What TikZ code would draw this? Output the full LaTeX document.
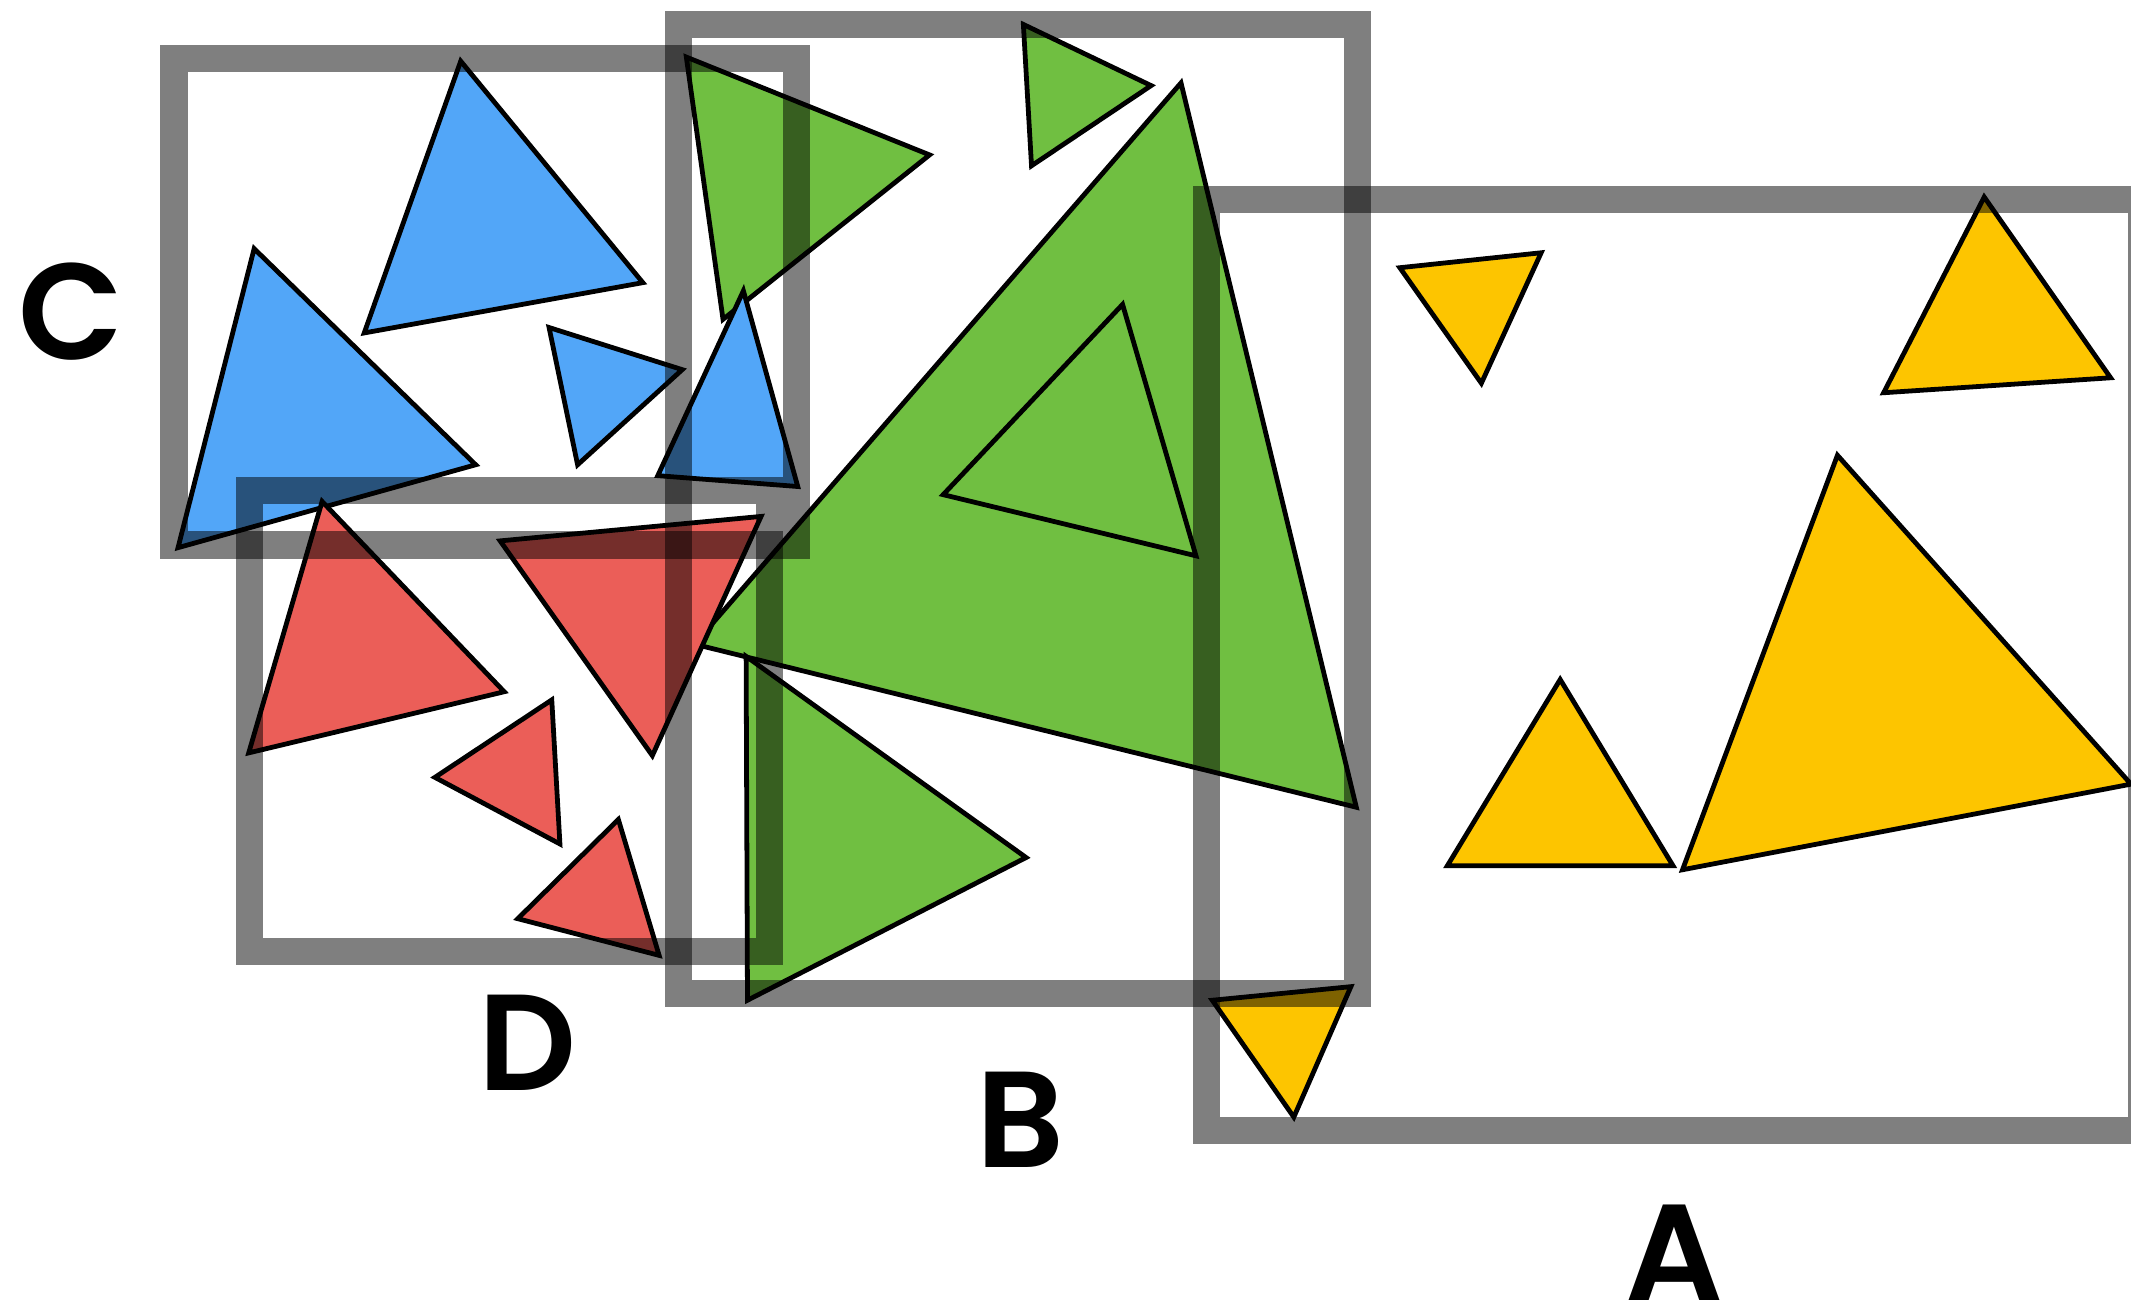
\documentclass[tikz,border=0pt]{standalone}
\usepackage{fontspec}
\newfontfamily\lblfont{Poppins SemiBold}
\definecolor{triblue}{RGB}{82,166,248}
\definecolor{trigreen}{RGB}{112,191,65}
\definecolor{trired}{RGB}{235,94,88}
\definecolor{triyellow}{RGB}{253,197,0}

\begin{document}
\begin{tikzpicture}[x=0.01cm, y=-0.01cm,
  tri/.style={draw=black, line width=1pt},
  frame/.style={draw=black, draw opacity=0.5, line width=0.2cm},
  lbl/.style={font=\lblfont\fontsize{28.6}{30}\selectfont, inner sep=0pt}]
\useasboundingbox (0,0) rectangle (1568,962);

% green set
\filldraw[tri, fill=trigreen] (869,61) -- (998,594) -- (511,474) -- cycle;
\filldraw[tri, fill=trigreen] (826,224) -- (880,409) -- (694,364) -- cycle;
\filldraw[tri, fill=trigreen] (505,42) -- (684,114) -- (532,235) -- cycle;
\filldraw[tri, fill=trigreen] (753,18) -- (847,63) -- (759,122) -- cycle;
\filldraw[tri, fill=trigreen] (549,483) -- (755,631) -- (550,736) -- cycle;

% blue set
\filldraw[tri, fill=triblue] (339,45) -- (473,208) -- (268,245) -- cycle;
\filldraw[tri, fill=triblue] (187,183) -- (350,342) -- (131,403) -- cycle;
\filldraw[tri, fill=triblue] (404,241) -- (502,272) -- (425,342) -- cycle;
\filldraw[tri, fill=triblue] (547,214) -- (587,358) -- (484,350) -- cycle;

% red set
\filldraw[tri, fill=trired] (237,369) -- (371,509) -- (183,554) -- cycle;
\filldraw[tri, fill=trired] (368,398) -- (560,380) -- (480,556) -- cycle;
\filldraw[tri, fill=trired] (406,515) -- (412,621) -- (320,572) -- cycle;
\filldraw[tri, fill=trired] (455,603) -- (485,703) -- (381,676) -- cycle;

% yellow set
\filldraw[tri, fill=triyellow] (1030,197) -- (1134,186) -- (1090,282) -- cycle;
\filldraw[tri, fill=triyellow] (1460,145) -- (1553,278) -- (1386,289) -- cycle;
\filldraw[tri, fill=triyellow] (1148,500) -- (1231,637) -- (1065,637) -- cycle;
\filldraw[tri, fill=triyellow] (1352,335) -- (1568,577) -- (1238,640) -- cycle;
\filldraw[tri, fill=triyellow] (892,736) -- (994,726) -- (952,822) -- cycle;

% boxes
\draw[frame] (128,43) rectangle (586,401);
\draw[frame] (183.5,361) rectangle (566,700);
\draw[frame] (499,18) rectangle (999,731);
\draw[frame] (888,147) rectangle (1576,832);

\node[lbl] (labC) at (52,229) {C};
\node[lbl] (labD) at (388.5,767) {D};
\node[lbl] (labB) at (751,824) {B};
\node[lbl] (labA) at (1232,921.5) {A};
\end{tikzpicture}
\end{document}
